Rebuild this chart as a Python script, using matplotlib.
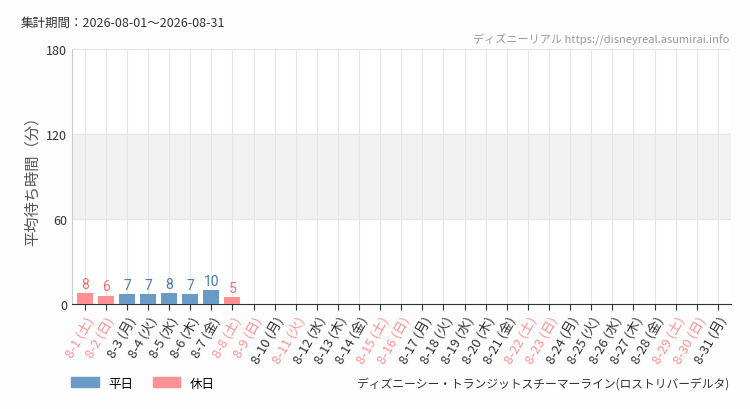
import matplotlib
matplotlib.use('Agg')
import matplotlib.pyplot as plt
from matplotlib.patches import Patch

plt.rcParams['font.family'] = ['Noto Sans CJK JP', 'DejaVu Sans']

days = list(range(1, 32))
weekdays = ['土', '日', '月', '火', '水', '木', '金']
labels = ['8-%d (%s)' % (d, weekdays[(d - 1) % 7]) for d in days]
holidays = [1, 2, 8, 9, 11, 15, 16, 22, 23, 29, 30]
values = [8, 6, 7, 7, 8, 7, 10, 5]

BLUE = '#6a9ac6'
PINK = '#ff9194'
BLUE_T = '#4a7bb0'
PINK_T = '#f07076'

fig = plt.figure(figsize=(7.5, 4.1), dpi=100)
fig.patch.set_facecolor('#fcfdfc')
ax = fig.add_axes([0.096, 0.256, 0.878, 0.622])
ax.set_facecolor('white')

ax.axhspan(60, 120, color='#f2f2f2', zorder=0)
for i, v in enumerate(values):
    hol = days[i] in holidays
    ax.bar(i, v, width=0.75, color=PINK if hol else BLUE, zorder=3)
    ax.text(i, v + 1.5, str(v), ha='center', va='bottom', fontsize=10,
            color=PINK_T if hol else BLUE_T, family='Roboto', fontstretch='condensed')

ax.set_xlim(-0.6, 30.6)
ax.set_ylim(0, 180)
ax.set_yticks([0, 60, 120, 180])
ax.set_xticks(range(31))
ax.set_xticklabels(labels, rotation=60, ha='right', rotation_mode='anchor', fontsize=9.5)
for lab, d in zip(ax.get_xticklabels(), days):
    lab.set_color(PINK if d in holidays else '#333333')
ax.tick_params(axis='y', length=0, labelsize=9, colors='#333333')
ax.tick_params(axis='x', length=4, color='#333333', pad=3)
ax.grid(True, color='#e6e6e6', linewidth=0.8, zorder=1)
for s in ['top', 'right']:
    ax.spines[s].set_visible(False)
ax.spines['left'].set_color('#cccccc')
ax.spines['bottom'].set_color('#333333')
ax.set_ylabel('平均待ち時間（分）', fontsize=11, color='#555555')

fig.text(0.027, 0.935, '集計期間：2026-08-01～2026-08-31', fontsize=9, color='#333333')
fig.text(0.973, 0.895, 'ディズニーリアル https://disneyreal.asumirai.info', fontsize=8,
         color='#999999', ha='right')
fig.text(0.973, 0.055, 'ディズニーシー・トランジットスチーマーライン(ロストリバーデルタ)',
         fontsize=8.5, color='#333333', ha='right')
fig.legend(handles=[Patch(color=BLUE, label='平日'), Patch(color=PINK, label='休日')],
           loc='lower left', bbox_to_anchor=(0.08, 0.02), ncol=2, frameon=False,
           fontsize=9, handlelength=2.2, handleheight=0.9, columnspacing=1.5)

fig.savefig('out.png', dpi=100, facecolor=fig.get_facecolor())
